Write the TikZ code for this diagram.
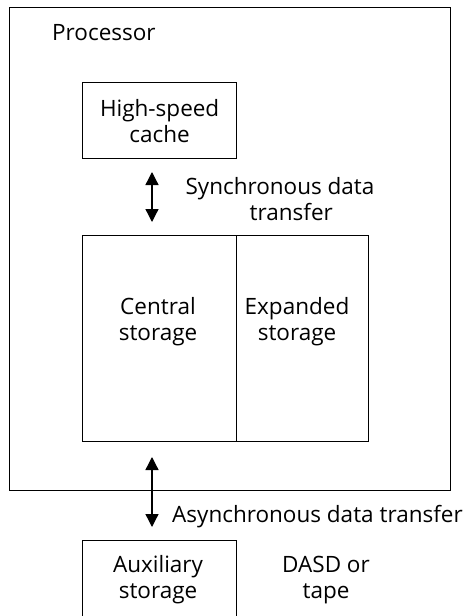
\documentclass[tikz,border=0pt]{standalone}
\usepackage{fontspec}
\setmainfont{Open Sans}
\usetikzlibrary{arrows.meta}
\begin{document}
\begin{tikzpicture}[x=1pt,y=-1pt,
  box/.style={draw, line width=1.3pt},
  lbl/.style={font=\fontsize{22.5}{26}\selectfont, align=center, inner sep=0pt},
  biarrow/.style={line width=1.3pt, {Triangle[length=13pt,width=13pt]}-{Triangle[length=13pt,width=13pt]}}]
\useasboundingbox (0,0) rectangle (471,616);
% processor
\node[box, minimum width=441pt, minimum height=483pt, anchor=north west] (proc) at (9,7) {};
\node[lbl, anchor=base west] (proclbl) at (52,40) {Processor};
% cache
\node[box, minimum width=154pt, minimum height=76pt, anchor=north west] (cache) at (82,82) {};
\node[lbl] (cachelbl) at (cache.center) {High-speed\\cache};
% storage
\node[box, minimum width=154pt, minimum height=206pt, anchor=north west] (central) at (82,235) {};
\node[box, minimum width=132pt, minimum height=206pt, anchor=north west] (expanded) at (236,235) {};
\node[lbl] (centrallbl) at (158,322) {Central\\storage};
\node[lbl] (expandedlbl) at (297,322) {Expanded\\storage};
% auxiliary
\node[box, minimum width=154pt, minimum height=90pt, anchor=north west] (aux) at (82,540) {};
\node[lbl] (auxlbl) at (158,580) {Auxiliary\\storage};
\node[lbl] (dasd) at (326,580) {DASD or\\tape};
% arrows
\coordinate (s1) at (152,172);
\coordinate (s2) at (152,222);
\draw[biarrow] (s1) -- (s2);
\node[lbl] (synclbl) at (280,199) {Synchronous data\\\hspace*{1em}transfer};
\coordinate (a1) at (152,457);
\coordinate (a2) at (152,527);
\draw[biarrow] (a1) -- (a2);
\node[lbl, anchor=west] (asynclbl) at (172,517) {Asynchronous data transfer};
\end{tikzpicture}
\end{document}
